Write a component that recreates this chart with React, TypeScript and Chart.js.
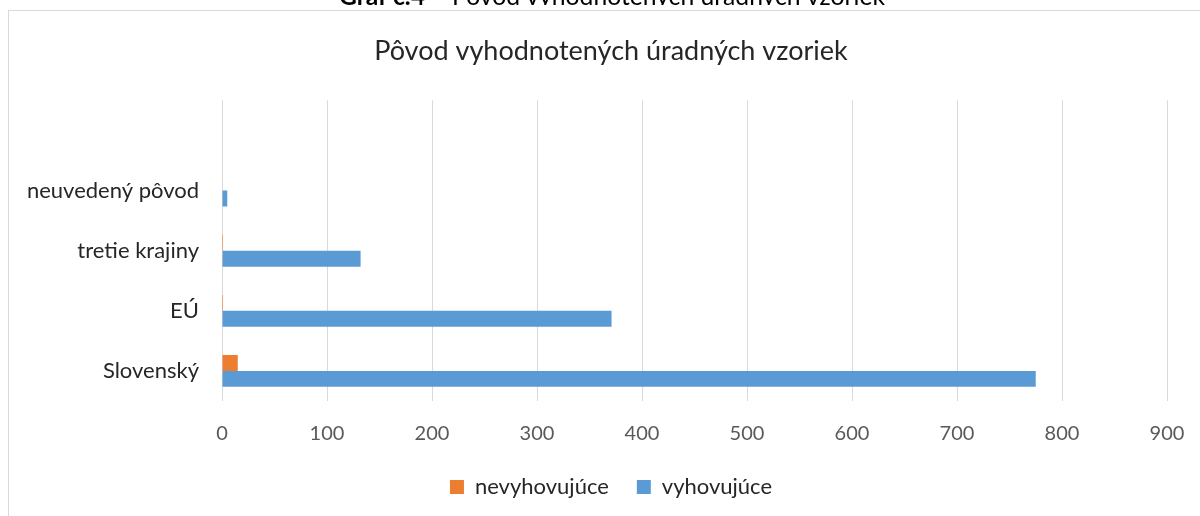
import React, { useEffect, useRef } from "react";
import { Chart, registerables } from "chart.js";

Chart.register(...registerables);

const chartTitle = "Pôvod vyhodnotených úradných vzoriek";
const headerBold = "Graf č.4";
const headerRest = " – Pôvod vyhodnotených úradných vzoriek";
const categories = ["", "neuvedený pôvod", "tretie krajiny", "EÚ", "Slovenský"];
const nevyhovujuce = [null, 0, 1, 1, 15];
const vyhovujuce = [null, 5, 132, 371, 775];
const xTicks = [0, 100, 200, 300, 400, 500, 600, 700, 800, 900];

const FONT = "Lato, 'Noto Sans', sans-serif";
// horizontal centre (canvas px) of the title and legend in the original frame
const BLOCK_CENTER = 602;

const recenter = {
  id: "recenter",
  afterLayout(chart: any) {
    for (const box of [chart.titleBlock, chart.legend]) {
      if (!box) continue;
      const half = (box.right - box.left) / 2;
      box.left = BLOCK_CENTER - half;
      box.right = BLOCK_CENTER + half;
    }
  },
};

export default function App() {
  const ref = useRef<HTMLCanvasElement | null>(null);
  const headRef = useRef<HTMLCanvasElement | null>(null);

  useEffect(() => {
    const hc = headRef.current;
    if (hc) {
      const ctx = hc.getContext("2d");
      if (ctx) {
        ctx.clearRect(0, 0, hc.width, hc.height);
        const boldFont = "bold 24.7px Lato, 'Noto Sans', sans-serif";
        const regFont = "24.7px Lato, 'Noto Sans', sans-serif";
        ctx.font = boldFont;
        const wb = ctx.measureText(headerBold).width;
        ctx.font = regFont;
        const wr = ctx.measureText(headerRest).width;
        const x0 = 612 - (wb + wr) / 2;
        ctx.fillStyle = "#000";
        ctx.textBaseline = "alphabetic";
        ctx.font = boldFont;
        ctx.fillText(headerBold, x0, 4.5);
        ctx.font = regFont;
        ctx.fillText(headerRest, x0 + wb, 4.5);
        ctx.clearRect(0, 5, hc.width, hc.height);
      }
    }

    const canvas = ref.current;
    if (!canvas) return;
    const chart = new Chart(canvas, {
      type: "bar",
      data: {
        labels: categories,
        datasets: [
          {
            label: "nevyhovujúce",
            data: nevyhovujuce,
            backgroundColor: "#ED7D31",
            borderWidth: 0,
            categoryPercentage: 0.53,
            barPercentage: 1,
          },
          {
            label: "vyhovujúce",
            data: vyhovujuce,
            backgroundColor: "#5B9BD5",
            borderWidth: 0,
            categoryPercentage: 0.53,
            barPercentage: 1,
          },
        ],
      },
      plugins: [recenter],
      options: {
        indexAxis: "y",
        animation: false,
        responsive: false,
        maintainAspectRatio: false,
        layout: { padding: { left: 0, right: 33, top: 0, bottom: 8 } },
        plugins: {
          title: {
            display: true,
            text: chartTitle,
            color: "#262626",
            font: { family: FONT, size: 27, weight: "normal" },
            padding: { top: 24, bottom: 33 },
          },
          legend: {
            display: true,
            position: "bottom",
            labels: {
              color: "#262626",
              font: { family: FONT, size: 22 },
              boxWidth: 14,
              boxHeight: 14,
              padding: 28,
            },
          },
          tooltip: { enabled: false },
        },
        scales: {
          x: {
            min: 0,
            max: 900,
            afterBuildTicks: (scale: any) => {
              scale.ticks = xTicks.map((v) => ({ value: v }));
            },
            afterFit: (scale: any) => {
              scale.height = 47;
              scale.paddingRight = 0;
              scale.paddingLeft = 0;
            },
            grid: {
              color: "#D9D9D9",
              lineWidth: 1,
              drawTicks: false,
            },
            border: { display: false },
            ticks: {
              color: "#595959",
              font: { family: FONT, size: 20 },
              padding: 21,
            },
          },
          y: {
            afterFit: (scale: any) => {
              scale.width = 213;
            },
            grid: { display: false, drawTicks: false },
            border: { display: false },
            ticks: {
              color: "#262626",
              font: { family: FONT, size: 22 },
              padding: 23,
            },
          },
        },
      },
    });
    return () => chart.destroy();
  }, []);

  return (
    <div style={{ position: "relative", width: 1200, height: 516, overflow: "hidden" }}>
      <style>{"html,body{margin:0;padding:0;overflow:hidden;background:#fff}"}</style>
      <canvas
        ref={headRef}
        width={1200}
        height={10}
        style={{ position: "absolute", left: 0, top: 0, width: 1200, height: 10 }}
      />
      <div
        style={{
          position: "absolute",
          left: 8,
          top: 10,
          width: 1192,
          height: 506,
          borderLeft: "1px solid #D9D9D9",
          borderTop: "1px solid #D9D9D9",
          background: "#fff",
        }}
      />
      <canvas
        ref={ref}
        width={1191}
        height={505}
        style={{ position: "absolute", left: 9, top: 11, width: 1191, height: 505 }}
      />
    </div>
  );
}
